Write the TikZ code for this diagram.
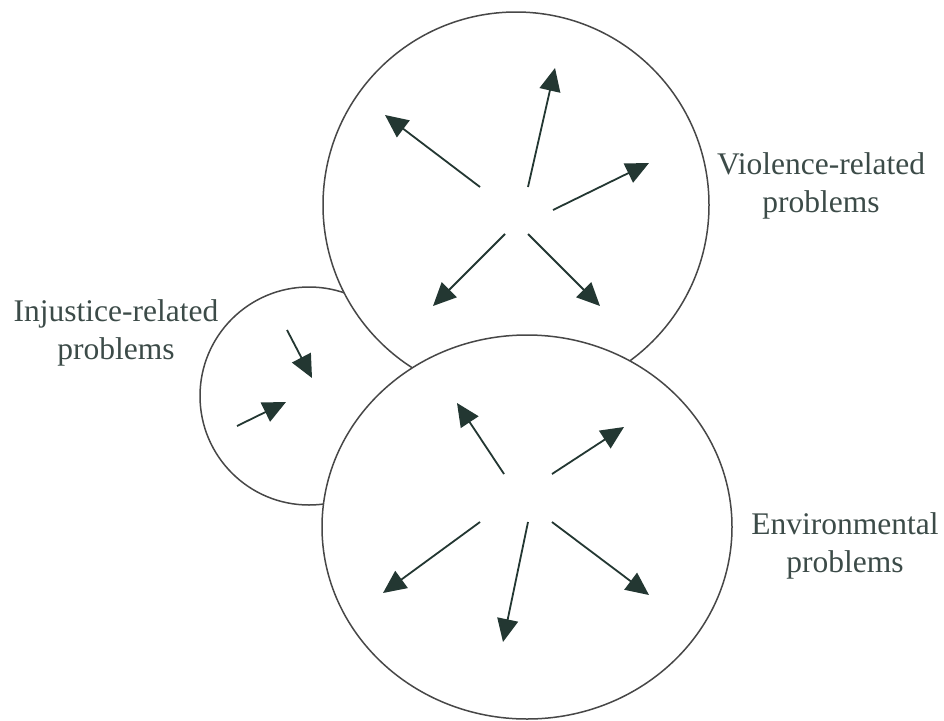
\documentclass[tikz,border=0pt]{standalone}
\usepackage{fontspec}
\setmainfont{Liberation Serif}
\usetikzlibrary{arrows.meta}
\definecolor{pushgreen}{RGB}{35,55,50}
\definecolor{textgray}{RGB}{60,75,72}
\tikzset{
  problem/.style={draw=black!72, line width=1.5pt, fill=white},
  push/.style={draw=pushgreen, line width=1.8pt, -{Triangle[length=23pt,width=21pt]}},
  probtext/.style={font=\fontsize{31.5}{38}\selectfont, align=center, text=textgray, inner sep=0pt}
}
\begin{document}
\begin{tikzpicture}[x=1pt, y=-1pt]
  \useasboundingbox (0,0) rectangle (944,720);
  % the three problem areas, back to front
  \draw[problem] (309,396) circle (109);
  \draw[problem] (516,205) circle (193);
  \draw[problem] (527,527) ellipse (205 and 192);
  % outward and inward pushes
  \foreach \sx/\sy/\ex/\ey in {
    480/187/385/115, 528/187/555/68, 553/210/649/163,
    505/234/433/306, 528/234/600/306,
    504/474/457/403, 552/474/624/427, 480/522/383/593,
    528/522/503/642, 552/522/649/595,
    287/330/312/378, 237/426/286/402} {
    \draw[push] (\sx,\sy) -- (\ex,\ey);
  }
  \node[probtext] (violence) at (821,186) {Violence-related\\problems};
  \node[probtext] (injustice) at (116,333) {Injustice-related\\problems};
  \node[probtext] (environ) at (845,546) {Environmental\\problems};
\end{tikzpicture}
\end{document}
